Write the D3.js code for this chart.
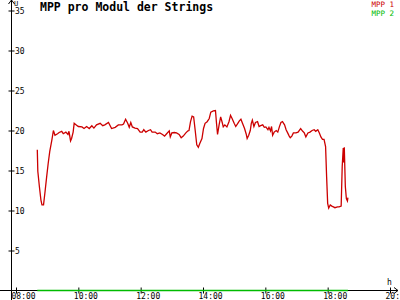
<!DOCTYPE html>
<html>
<head>
<meta charset="utf-8">
<script src="https://cdn.jsdelivr.net/npm/d3@7"></script>
<style>
  body { margin: 0; background: #fff; }
  svg { display: block; }
  text { font-family: "DejaVu Sans Mono", monospace; }
</style>
</head>
<body>
<svg id="chart" width="400" height="300"></svg>
<script>
// MPP 1 readings (time, V per module)
var mpp1Times = [
    "08:41","08:42","08:45","08:48","08:50","08:53","08:56","08:59","09:02","09:05",
    "09:09","09:12","09:15","09:20","09:23","09:28","09:31","09:36","09:40","09:42",
    "09:45","09:47","09:50","09:52","09:56","10:00","10:07","10:11","10:16","10:21",
    "10:26","10:30","10:35","10:42","10:47","10:51","10:58","11:04","11:11","11:17",
    "11:24","11:27","11:31","11:35","11:38","11:41","11:44","11:49","11:54","11:59",
    "12:03","12:06","12:10","12:15","12:19","12:22","12:28","12:32","12:37","12:42",
    "12:46","12:50","12:55","12:57","13:00","13:05","13:09","13:14","13:18","13:22",
    "13:27","13:31","13:33","13:36","13:39","13:42","13:45","13:48","13:51","13:54",
    "13:58","14:01","14:04","14:08","14:12","14:15","14:20","14:24","14:26","14:28",
    "14:31","14:34","14:37","14:39","14:42","14:46","14:50","14:53","14:56","15:00",
    "15:03","15:07","15:10","15:13","15:16","15:20","15:23","15:25","15:28","15:31",
    "15:33","15:35","15:38","15:41","15:45","15:48","15:51","15:55","15:58","16:01",
    "16:05","16:07","16:10","16:12","16:14","16:17","16:21","16:24","16:27","16:30",
    "16:33","16:37","16:40","16:43","16:46","16:48","16:51","16:54","16:59","17:03",
    "17:08","17:12","17:15","17:18","17:22","17:26","17:30","17:34","17:37","17:41",
    "17:44","17:47","17:50","17:53","17:56","17:58","18:00","18:02","18:05","18:08",
    "18:11","18:14","18:19","18:22","18:26","18:28","18:30","18:31","18:32","18:34",
    "18:36","18:38","18:39"
];
var mpp1Values = [
    17.6, 14.9, 13.0, 11.3, 10.7, 10.7, 12.4, 14.2, 15.9, 17.4,
    18.8, 20.0, 19.4, 19.6, 19.75, 19.9, 19.6, 19.8, 19.5, 19.9,
    18.7, 19.0, 19.8, 20.9, 20.7, 20.5, 20.45, 20.25, 20.5, 20.25,
    20.6, 20.3, 20.7, 20.9, 20.6, 20.7, 21.0, 20.25, 20.4, 20.7,
    20.7, 20.8, 21.4, 20.9, 20.4, 21.0, 20.45, 20.3, 20.25, 19.8,
    19.8, 20.1, 19.8, 20.0, 20.1, 19.8, 19.8, 19.6, 19.7, 19.5,
    19.3, 19.6, 19.95, 19.2, 19.7, 19.75, 19.7, 19.5, 19.1, 19.3,
    19.7, 19.95, 20.0, 21.1, 21.8, 21.7, 20.0, 18.2, 17.9, 18.4,
    19.0, 20.25, 20.9, 21.1, 21.5, 22.3, 22.45, 22.5, 20.9, 19.5,
    20.7, 21.7, 21.0, 20.45, 20.7, 20.45, 21.1, 21.9, 21.5, 20.9,
    20.5, 20.9, 21.2, 21.4, 20.9, 20.25, 19.6, 19.0, 19.4, 20.0,
    20.9, 21.3, 20.5, 21.0, 21.1, 20.5, 20.6, 20.7, 20.4, 20.45,
    20.1, 20.4, 19.95, 20.5, 19.4, 19.8, 20.0, 19.8, 20.45, 21.0,
    21.1, 20.7, 20.1, 19.7, 19.3, 19.1, 19.3, 19.7, 19.7, 19.8,
    20.25, 19.9, 19.7, 19.2, 19.7, 19.8, 20.0, 20.1, 19.9, 20.1,
    19.7, 19.2, 18.9, 18.9, 18.0, 14.2, 10.9, 10.3, 10.7, 10.55,
    10.45, 10.35, 10.45, 10.45, 10.55, 15.5, 17.8, 16.0, 17.9, 13.0,
    11.5, 11.2, 11.6
];
// MPP 2 stays at zero all day
var mpp2Times = ["08:41", "18:39"];
var mpp2Values = [0, 0];

var xTickTimes = ["08:00","10:00","12:00","14:00","16:00","18:00","20:00"];
var yTickValues = [5, 10, 15, 20, 25, 30, 35];
var seriesNames = ["MPP 1", "MPP 2"];
var seriesColors = ["#cc0000", "#00bb00"];

var parseTime = d3.timeParse("%H:%M");
var formatTime = d3.timeFormat("%H:%M");

var svg = d3.select("#chart");

var x = d3.scaleTime()
    .domain([parseTime("08:00"), parseTime("20:00")])
    .range([16, 390]);
var y = d3.scaleLinear()
    .domain([0, 35])
    .range([290.5, 10.5]);

var axisX = 11.5, axisY = 290.5;

var line = d3.line()
    .x(function(d) { return x(d.t); })
    .y(function(d) { return y(d.v); });

var zipSeries = function(times, values) {
    return times.map(function(t, i) {
        return { t: parseTime(t), v: values[i] };
    });
};

// x axis
var gx = svg.append("g")
    .attr("transform", "translate(0," + axisY + ")")
    .call(d3.axisBottom(x)
        .tickValues(xTickTimes.map(parseTime))
        .tickFormat(formatTime)
        .tickSize(3));
gx.select(".domain").remove();
gx.selectAll(".tick line").attr("y1", -3).attr("y2", 3).attr("stroke", "#000");
gx.selectAll(".tick text")
    .attr("y", 2.5)
    .attr("dy", "0.71em")
    .attr("text-anchor", "start")
    .attr("dx", -5)
    .style("font-size", "8px")
    .attr("fill", "#000");

// y axis
var gy = svg.append("g")
    .attr("transform", "translate(" + axisX + ",0)")
    .call(d3.axisRight(y)
        .tickValues(yTickValues)
        .tickSize(3));
gy.select(".domain").remove();
gy.selectAll(".tick line").attr("x1", -3).attr("x2", 3).attr("stroke", "#000");
gy.selectAll(".tick text")
    .attr("x", 3.5)
    .style("font-size", "8px")
    .attr("fill", "#000");

// axis lines with arrows
var axes = svg.append("g").attr("stroke", "#000").attr("fill", "none");
axes.append("path").attr("d", "M0," + axisY + "H398");
axes.append("path").attr("d", "M394," + (axisY - 3) + "L398," + axisY + "L394," + (axisY + 3));
axes.append("path").attr("d", "M" + axisX + ",300V0");
axes.append("path").attr("d", "M" + (axisX - 3) + ",4L" + axisX + ",0L" + (axisX + 3) + ",4");

svg.append("text").attr("x", 14).attr("y", 6)
    .style("font-size", "7px").text("U");
svg.append("text").attr("x", 387).attr("y", 285)
    .style("font-size", "8px").text("h");

// series, drawn over the axis
svg.append("path")
    .datum(zipSeries(mpp2Times, mpp2Values))
    .attr("d", line)
    .attr("fill", "none")
    .attr("stroke", seriesColors[1])
    .attr("stroke-width", 1.5);

svg.append("path")
    .datum(zipSeries(mpp1Times, mpp1Values))
    .attr("d", line)
    .attr("fill", "none")
    .attr("stroke", seriesColors[0])
    .attr("stroke-width", 1.3);

// title
svg.append("text")
    .attr("x", 40).attr("y", 11)
    .style("font-size", "11.5px")
    .style("font-weight", "bold")
    .text("MPP pro Modul der Strings");

// legend
svg.selectAll(".legend")
    .data(seriesNames)
    .enter().append("text")
    .attr("class", "legend")
    .attr("x", 394)
    .attr("y", function(d, i) { return 7 + i * 8.5; })
    .attr("text-anchor", "end")
    .style("font-size", "7.5px")
    .attr("fill", function(d, i) { return seriesColors[i]; })
    .text(function(d) { return d; });
</script>
</body>
</html>
